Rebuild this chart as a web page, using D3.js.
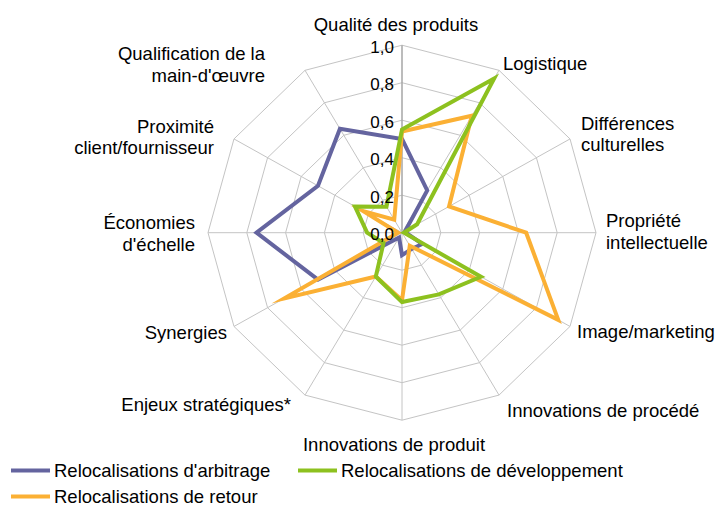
<!DOCTYPE html>
<html>
<head>
<meta charset="utf-8">
<script src="https://cdn.jsdelivr.net/npm/d3@7"></script>
<style>
  body { margin: 0; background: #fff; }
  text { font-family: "Liberation Sans", Arial, sans-serif; fill: #000; }
</style>
</head>
<body>
<div id="chart-area"></div>
<script>
// axes, clockwise from the top ("\n" marks the label line breaks)
var categories = [
    "Qualité des produits", "Logistique", "Différences\nculturelles",
    "Propriété\nintellectuelle", "Image/marketing", "Innovations de procédé",
    "Innovations de produit", "Enjeux stratégiques*", "Synergies",
    "Économies\nd'échelle", "Proximité\nclient/fournisseur",
    "Qualification de la\nmain-d'œuvre"
];

var arbitrage     = [0.50, 0.26, 0.02, 0.02, 0.12, 0.10, 0.12, 0.03, 0.50, 0.75, 0.50, 0.64];
var developpement = [0.55, 0.95, 0.09, 0.01, 0.47, 0.38, 0.37, 0.27, 0.11, 0.18, 0.28, 0.16];
var retour        = [0.54, 0.72, 0.28, 0.64, 0.93, 0.08, 0.36, 0.27, 0.70, 0.02, 0.23, 0.08];

var seriesNames = ["Relocalisations d'arbitrage", "Relocalisations de développement", "Relocalisations de retour"];
var ticks = [0, 0.2, 0.4, 0.6, 0.8, 1.0];

var width = 716, height = 507;
var cx = 402, cy = 232.7;

var svg = d3.select("#chart-area")
    .append("svg")
    .attr("width", width)
    .attr("height", height);

var rX = d3.scaleLinear().domain([0, 1]).range([0, 194]);
var rY = d3.scaleLinear().domain([0, 1]).range([0, 187.5]);
var angle = d3.scaleLinear().domain([0, categories.length]).range([0, 2 * Math.PI]);

function pt(i, v) {
    var a = angle(i);
    return [cx + rX(v) * Math.sin(a), cy - rY(v) * Math.cos(a)];
}

var line = d3.line().curve(d3.curveLinearClosed);

// grid polygons
var g = svg.append("g");
ticks.slice(1).forEach(function (t) {
    g.append("path")
        .attr("d", line(categories.map(function (c, i) { return pt(i, t); })))
        .attr("fill", "none")
        .attr("stroke", "#c4c4c4")
        .attr("stroke-width", 1);
});

// spokes
categories.forEach(function (c, i) {
    var p = pt(i, 1);
    g.append("line")
        .attr("x1", cx).attr("y1", cy)
        .attr("x2", p[0]).attr("y2", p[1])
        .attr("stroke", i === 0 ? "#a6a6a6" : "#c4c4c4")
        .attr("stroke-width", i === 0 ? 1.5 : 1);
});

// series (green drawn last, on top)
var series = [
    { name: seriesNames[0], values: arbitrage, color: "#64649f" },
    { name: seriesNames[2], values: retour, color: "#fbb034" },
    { name: seriesNames[1], values: developpement, color: "#8dc11f" }
];

svg.selectAll(".series")
    .data(series)
    .enter()
    .append("path")
    .attr("class", "series")
    .attr("d", function (s) {
        return line(s.values.map(function (v, i) { return pt(i, v); }));
    })
    .attr("fill", "none")
    .attr("stroke", function (s) { return s.color; })
    .attr("stroke-width", 4)
    .attr("stroke-linejoin", "miter")
    .attr("stroke-miterlimit", 10);

// tick labels on the top axis
var fmt = d3.format(".1f");
svg.selectAll(".tick-label")
    .data(ticks)
    .enter()
    .append("text")
    .attr("class", "tick-label")
    .attr("x", cx - 8)
    .attr("y", function (t) { return pt(0, t)[1] + 1.5; })
    .attr("dy", "0.35em")
    .attr("text-anchor", "end")
    .style("font-size", "17px")
    .text(function (t) { return fmt(t).replace(".", ","); });

// category labels: nudge from the end of each spoke
var labelNudge = [
    [-6, -21, "middle"], [4, -7, "start"], [11, -5, "start"], [10, -1, "start"],
    [7, 5, "start"], [8, 15, "start"], [-8, 24, "middle"], [-14, 9, "end"],
    [-7, 6, "end"], [-13, 1, "end"], [-20, -2, "end"], [-40, -6, "end"]
];
var lineH = 21.5;

categories.forEach(function (c, i) {
    var p = pt(i, 1);
    var lines = c.split("\n");
    var n = labelNudge[i];
    var t = svg.append("text")
        .attr("text-anchor", n[2])
        .style("font-size", "18.5px");
    lines.forEach(function (l, k) {
        t.append("tspan")
            .attr("x", p[0] + n[0])
            .attr("y", p[1] + n[1] + (k - (lines.length - 1) / 2) * lineH)
            .attr("dy", "0.35em")
            .text(l);
    });
});

// legend
var legendPos = [[11, 470.5], [298, 470.5], [11, 496.5]];
var legendColors = ["#64649f", "#8dc11f", "#fbb034"];
var legend = svg.selectAll(".legend")
    .data(seriesNames)
    .enter()
    .append("g")
    .attr("class", "legend")
    .attr("transform", function (d, i) {
        return "translate(" + legendPos[i][0] + "," + legendPos[i][1] + ")";
    });

legend.append("line")
    .attr("x1", 0).attr("x2", 39)
    .attr("y1", 0).attr("y2", 0)
    .attr("stroke", function (d, i) { return legendColors[i]; })
    .attr("stroke-width", 4);

legend.append("text")
    .attr("x", 43)
    .attr("y", 0)
    .attr("dy", "0.35em")
    .style("font-size", "18.5px")
    .text(function (d) { return d; });
</script>
</body>
</html>
